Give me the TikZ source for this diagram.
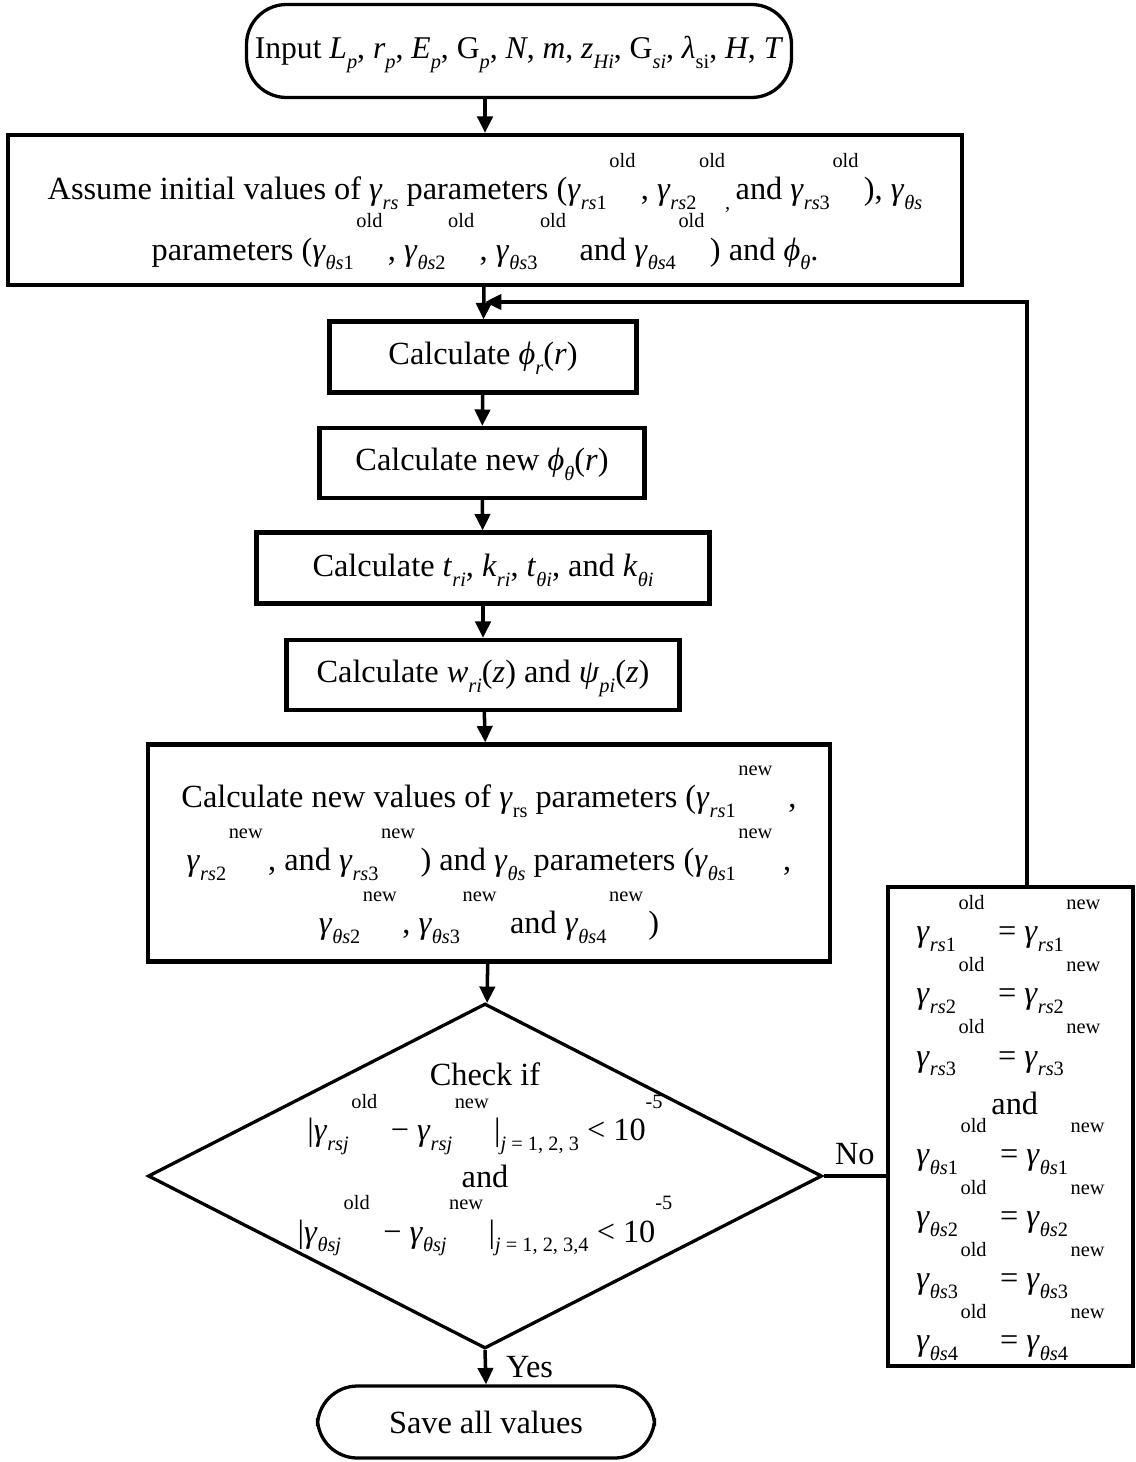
\documentclass[tikz,border=0pt]{standalone}
\usepackage{fontspec}
\setmainfont{Liberation Serif}
\usetikzlibrary{shapes.geometric,arrows.meta}
\newcommand{\pxu}{0.015cm}
\newcommand{\sbx}[1]{\raisebox{-0.3em}[0pt][0pt]{\fontsize{8.7}{9}\selectfont #1}}
\newcommand{\spx}[1]{\raisebox{1.0em}{\fontsize{8.7}{9}\selectfont #1}}
\newcommand{\gs}[1]{\textit{γ}\sbx{#1}}
\newcommand{\gso}[2]{\textit{γ}\sbx{#1}\kern0.08em\spx{#2}}
\begin{document}
\begin{tikzpicture}[x=\pxu, y=-\pxu,
  txt/.style={font={\fontsize{13.8}{16.5}\selectfont}, align=center, inner sep=0pt},
  procbox/.style={txt, draw, line width=1.8pt, rectangle},
  termbox/.style={txt, draw, line width=1.4pt, rectangle, rounded corners=0.6cm},
  decision/.style={draw, line width=1.4pt, diamond, aspect=1.95, inner sep=0pt},
  arr/.style={line width=1.5pt, -{Triangle[length=7pt,width=6.5pt]}},
  link/.style={line width=1.5pt}]
  \useasboundingbox (0,0) rectangle (1135,1462);

  % Nodes
  \node[termbox, font={\fontsize{13.5}{16}\selectfont}, minimum width={545*\pxu}, minimum height={93*\pxu}] (in) at (519,51)
    {Input \textit{L}\sbx{\textit{p}}, \textit{r}\sbx{\textit{p}}, \textit{E}\sbx{\textit{p}}, G\sbx{\textit{p}}, \textit{N}, \textit{m}, \textit{z}\sbx{\textit{Hi}}, G\sbx{\textit{si}}, \textit{λ}\sbx{si}, \textit{H}, \textit{T}};
  \node[procbox, font={\fontsize{13.8}{25.8}\selectfont}, minimum width={954*\pxu}, minimum height={150*\pxu}] (init) at (485,210)
    {Assume initial values of \gs{\textit{rs}} parameters (\gso{\textit{rs}1}{old}\,, \gso{\textit{rs}2}{old}\sbx{,}\,and \gso{\textit{rs}3}{old}\,), \gs{\textit{θs}}\\
     parameters (\gso{\textit{θs}1}{old}\,, \gso{\textit{θs}2}{old}\,, \gso{\textit{θs}3}{old}\, and \gso{\textit{θs}4}{old}\,) and \textit{ϕ}\sbx{\textit{θ}}.};
  \node[procbox, minimum width={307*\pxu}, minimum height={71*\pxu}] (phir) at (483,357)
    {Calculate \textit{ϕ}\sbx{\textit{r}}(\textit{r})};
  \node[procbox, minimum width={325*\pxu}, minimum height={70*\pxu}] (phit) at (482,463)
    {Calculate new \textit{ϕ}\sbx{\textit{θ}}(\textit{r})};
  \node[procbox, minimum width={453*\pxu}, minimum height={71*\pxu}] (tk) at (483,568)
    {Calculate \textit{t}\sbx{\textit{ri}}, \textit{k}\sbx{\textit{ri}}, \textit{t}\sbx{\textit{θi}}, and \textit{k}\sbx{\textit{θi}}};
  \node[procbox, minimum width={393*\pxu}, minimum height={70*\pxu}] (wpsi) at (483,675)
    {Calculate \textit{w}\sbx{\textit{ri}}(\textit{z}) and \textit{ψ}\sbx{\textit{pi}}(\textit{z})};
  \node[procbox, font={\fontsize{13.8}{26.9}\selectfont}, minimum width={682*\pxu}, minimum height={217*\pxu}] (newv) at (489,853)
    {Calculate new values of \gs{rs} parameters (\gso{\textit{rs}1}{new}\,\,\,,\\
     \gso{\textit{rs}2}{new}\,, and \gso{\textit{rs}3}{new}\,) and \gs{\textit{θs}} parameters (\gso{\textit{θs}1}{new}\,\,,\\
     \gso{\textit{θs}2}{new}\,, \gso{\textit{θs}3}{new}\, and \gso{\textit{θs}4}{new}\,)};
  \node[decision, minimum width={674*\pxu}, minimum height={345*\pxu}] (chk) at (485,1176) {};
  \node[txt, font={\fontsize{13.8}{20.9}\selectfont}] (chktxt) at (485,1156)
    {Check if\\[2.5pt]
     |\gso{\textit{rsj}}{old}\, − \gso{\textit{rsj}}{new}\,|\sbx{\textit{j} = 1, 2, 3} < 10\spx{-5}\\[-1pt]
     and\\[2.5pt]
     |\gso{\textit{θsj}}{old}\, − \gso{\textit{θsj}}{new}\,|\sbx{\textit{j} = 1, 2, 3,4} < 10\spx{-5}};
  \node[procbox, align=left, font={\fontsize{13.8}{26.5}\selectfont}, minimum width={245*\pxu}, minimum height={479*\pxu}] (upd) at (1010.5,1126.5)
    {\gso{\textit{rs}1}{old}\, = \gso{\textit{rs}1}{new}\\
     \gso{\textit{rs}2}{old}\, = \gso{\textit{rs}2}{new}\\
     \gso{\textit{rs}3}{old}\, = \gso{\textit{rs}3}{new}\\[-6pt]
     \hspace*{32pt}and\\[-5pt]
     \gso{\textit{θs}1}{old}\, = \gso{\textit{θs}1}{new}\\
     \gso{\textit{θs}2}{old}\, = \gso{\textit{θs}2}{new}\\
     \gso{\textit{θs}3}{old}\, = \gso{\textit{θs}3}{new}\\
     \gso{\textit{θs}4}{old}\, = \gso{\textit{θs}4}{new}};
  \node[termbox, minimum width={337*\pxu}, minimum height={72*\pxu}] (save) at (486,1422)
    {Save all values};
  \coordinate (back) at (1027,302);
  \coordinate (join) at (485,302);

  % Edges
  \draw[arr] (init.north |- in.south) -- (init.north);
  \foreach \a/\b in {init/phir, phir/phit, phit/tk, tk/wpsi, wpsi/newv, newv/chk}
    \draw[arr] (\a) -- (\b);
  \draw[arr] (chk.south) -- (save.north) node[midway, right=8pt, txt] {Yes};
  \draw[link] (chk.east) -- (chk.east -| upd.west) node[midway, above=4pt, txt] {No};
  \draw[arr] (upd.north -| back) -- (back) -- (join);
\end{tikzpicture}
\end{document}
